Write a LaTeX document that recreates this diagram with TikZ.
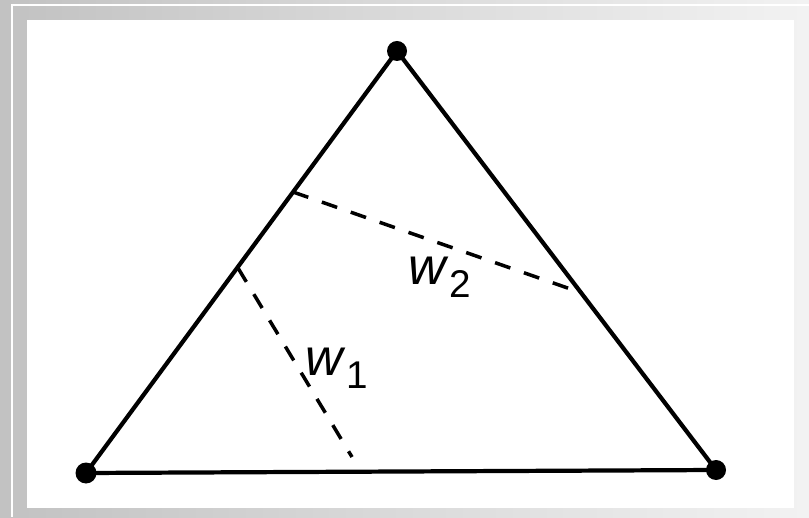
\documentclass[tikz,border=0pt]{standalone}
\usepackage{fontspec}
\setmainfont{Liberation Sans}
\newcommand{\wsub}[1]{\raisebox{-3.7pt}{\fontsize{11}{13}\selectfont #1}}
\tikzset{
  vertex/.style={fill=black},
  side/.style={line width=1.2pt},
  height/.style={line width=1pt, dash pattern=on 4.6pt off 4.1pt},
  lbl/.style={font=\fontsize{14.8}{18}\selectfont, inner sep=0pt, anchor=base west}
}
\begin{document}
\begin{tikzpicture}
    % frame
    \useasboundingbox (0,0) rectangle (8.09,5.17);
    \shade[left color=gray!48, right color=gray!10] (0,0) rectangle (8.09,5.17);
    \draw[white, line width=0.6pt] (0.12,0) -- (0.12,5.12) -- (8.09,5.12);
    \fill[white] (0.27,0.09) rectangle (7.94,4.97);

    \coordinate (A) at (3.97, 4.66);
    \coordinate (B) at (0.86, 0.44);
    \coordinate (C) at (7.16, 0.47);

    \draw[side, line join=round] (A) -- (B) -- (C) -- cycle;
    \fill[vertex] (A) circle (0.1);
    \fill[vertex] (B) circle (0.105);
    \fill[vertex] (C) circle (0.1);

    % distances to the sides
    \coordinate (F1) at (2.38, 2.49);
    \coordinate (E1) at (3.52, 0.60);
    \coordinate (F2) at (2.93, 3.25);
    \coordinate (E2) at (5.79, 2.25);

    \draw[height] (F1) -- (E1);
    \draw[height] (F2) -- (E2);

    \node[lbl] (w1) at (3.05, 1.42) {\textit{w}\wsub{1}};
    \node[lbl] (w2) at (4.08, 2.32) {\textit{w}\wsub{2}};
\end{tikzpicture}
\end{document}
